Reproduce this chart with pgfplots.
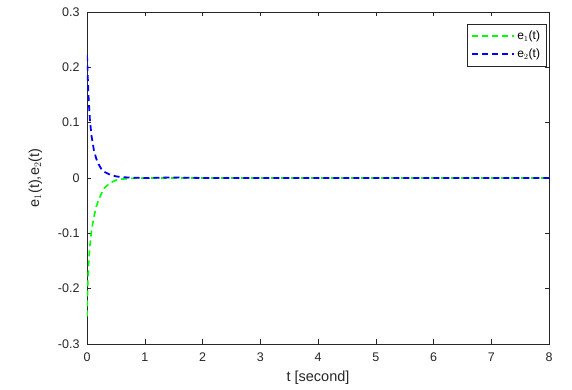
\documentclass[border=0pt]{standalone}
\usepackage{pgfplots}
\pgfplotsset{compat=1.18}
\usepackage{fontspec}
\setmainfont{Liberation Sans}
\definecolor{axgray}{RGB}{38,38,38}
\definecolor{mygreen}{RGB}{0,255,0}
\definecolor{myblue}{RGB}{0,0,255}
\begin{document}
\begin{tikzpicture}
\begin{axis}[
  scale only axis,
  width=462pt, height=332pt,
  xmin=0, xmax=8, ymin=-0.3, ymax=0.3,
  xtick={0,1,...,8},
  ytick={-0.3,-0.2,-0.1,0,0.1,0.2,0.3},
  yticklabel style={/pgf/number format/fixed,/pgf/number format/precision=1},
  /pgf/number format/assume math mode=true,
  tick align=inside,
  axis line style={axgray, line width=0.5pt},
  tick style={axgray, line width=0.5pt},
  major tick length=4.5pt,
  ticklabel style={font=\fontsize{12.5}{14}\selectfont, text=axgray},
  xticklabel style={yshift=-5pt},
  yticklabel style={xshift=-4pt},
  xlabel={t [second]},
  ylabel={e$_1$(t),e$_2$(t)},
  label style={font=\fontsize{14.5}{16}\selectfont, text=axgray},
  xlabel style={yshift=-3pt},
  ylabel style={yshift=9pt},
  legend style={at={(0.994,0.964)}, anchor=north east, draw=axgray,
    font=\fontsize{12}{14}\selectfont, row sep=3.5pt, inner xsep=4pt, inner ysep=5pt},
  legend cell align=left,
  legend image code/.code={\draw[#1] (0pt,0pt) -- (42pt,0pt);},
]
\addplot[color=mygreen, line width=1.6pt, dash pattern=on 6pt off 4pt] coordinates {
(0,-0.250) (0.01,-0.200) (0.03,-0.152) (0.05,-0.122) (0.08,-0.094) (0.12,-0.070)
(0.16,-0.052) (0.20,-0.040) (0.25,-0.028) (0.30,-0.018) (0.40,-0.009) (0.50,-0.004)
(0.60,-0.002) (0.80,-0.0005) (1.0,0) (2,0) (3,0) (4,0) (5,0) (6,0) (7,0) (8,0)
};
\addlegendentry{e$_1$(t)}
\addplot[color=myblue, line width=1.8pt, dash pattern=on 6pt off 4pt] coordinates {
(0,0.222) (0.01,0.190) (0.03,0.140) (0.05,0.105) (0.08,0.075) (0.12,0.050)
(0.16,0.035) (0.20,0.025) (0.25,0.016) (0.30,0.011) (0.40,0.006) (0.50,0.003)
(0.60,0.0015) (0.80,0.0005) (1.0,0) (1.5,0.001) (2,0) (3,0) (4,0) (5,0) (6,0) (7,0) (8,0)
};
\addlegendentry{e$_2$(t)}
\end{axis}
\path[use as bounding box] (-87pt,-46pt) rectangle (485pt,344pt);
\end{tikzpicture}
\end{document}
